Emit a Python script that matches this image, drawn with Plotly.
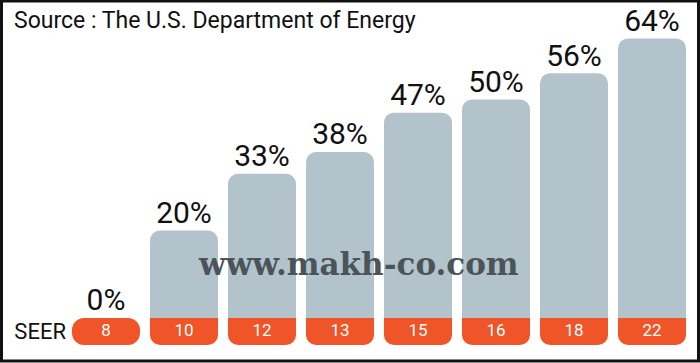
import plotly.graph_objects as go

# ---- data ----
seer_labels = ["8", "10", "12", "13", "15", "16", "18", "22"]
savings_pct = [0, 20, 33, 38, 47, 50, 56, 64]
value_text = [f"{v}%" for v in savings_pct]
source_text = "Source : The U.S. Department of Energy"
watermark_text = "www.makh-co.com"
row_label = "SEER"

# ---- style constants ----
GRAY = "#b3c3cb"
ORANGE = "#ef5529"
LABEL_H = 6.2          # height of orange label strip (axis units)
W, H = 700, 363
ML, MR, MT, MB = 67, 9, 0, 18
PW, PH = W - ML - MR, H - MT - MB

def px_x(p):
    return (p - ML) / PW

def px_y(p):
    return 1 - (p - MT) / PH

zero_idx = [i for i, v in enumerate(savings_pct) if v == 0]
pos_idx = [i for i, v in enumerate(savings_pct) if v != 0]

fig = go.Figure()

# gray value bars (rounded top)
fig.add_trace(go.Bar(
    x=[seer_labels[i] for i in pos_idx], y=[savings_pct[i] for i in pos_idx],
    marker=dict(color=GRAY, cornerradius=10, line=dict(width=0)),
    hoverinfo="skip"))

# orange label strips below bars with a value (rounded bottom)
fig.add_trace(go.Bar(
    x=[seer_labels[i] for i in pos_idx], y=[-LABEL_H] * len(pos_idx),
    marker=dict(color=ORANGE, cornerradius=10, line=dict(width=0)),
    hoverinfo="skip"))

# zero-value bars: pill-shaped strip (base given -> all corners rounded)
fig.add_trace(go.Bar(
    x=[seer_labels[i] for i in zero_idx], y=[LABEL_H] * len(zero_idx),
    base=-LABEL_H, marker=dict(color=ORANGE, cornerradius=12, line=dict(width=0)),
    hoverinfo="skip"))

# value labels above bars
fig.add_trace(go.Scatter(
    x=seer_labels, y=savings_pct, mode="text", text=value_text,
    textposition="top center",
    textfont=dict(family="Roboto", size=30, color="#111111"),
    hoverinfo="skip", cliponaxis=False))

# SEER labels inside orange strips
fig.add_trace(go.Scatter(
    x=seer_labels, y=[-LABEL_H / 2] * len(seer_labels), mode="text",
    text=seer_labels, textposition="middle center",
    textfont=dict(family="Roboto", size=17, color="white"),
    hoverinfo="skip", cliponaxis=False))

fig.update_layout(
    width=W, height=H, margin=dict(l=ML, r=MR, t=MT, b=MB),
    barmode="overlay", bargap=0.128, showlegend=False,
    paper_bgcolor="white", plot_bgcolor="white",
    xaxis=dict(visible=False, type="category", categoryorder="array",
               categoryarray=seer_labels, range=[-0.5, len(seer_labels) - 0.5]),
    yaxis=dict(range=[-LABEL_H, 72.8], showgrid=False, zeroline=False,
               showline=False, ticks="", tickvals=[-LABEL_H / 2],
               ticktext=[row_label],
               tickfont=dict(family="Roboto", size=22, color="#111111")),
    annotations=[
        dict(text=source_text, xref="paper", yref="paper",
             x=px_x(12), y=px_y(21), xanchor="left", yanchor="middle",
             showarrow=False, font=dict(family="Roboto", size=23, color="#111111")),
        dict(text="<b>" + watermark_text + "</b>", xref="paper", yref="paper",
             x=px_x(358), y=px_y(264), xanchor="center", yanchor="middle",
             showarrow=False,
             font=dict(family="DejaVu Serif", size=31, color="#4a5459")),
    ],
    shapes=[
        dict(type="rect", xref="paper", yref="paper",
             x0=px_x(1.5), x1=px_x(698.5), y0=px_y(361), y1=px_y(1),
             line=dict(color="#111111", width=3), fillcolor="rgba(0,0,0,0)",
             layer="above"),
    ],
)

fig.write_html("out.html", config={"displayModeBar": False})
